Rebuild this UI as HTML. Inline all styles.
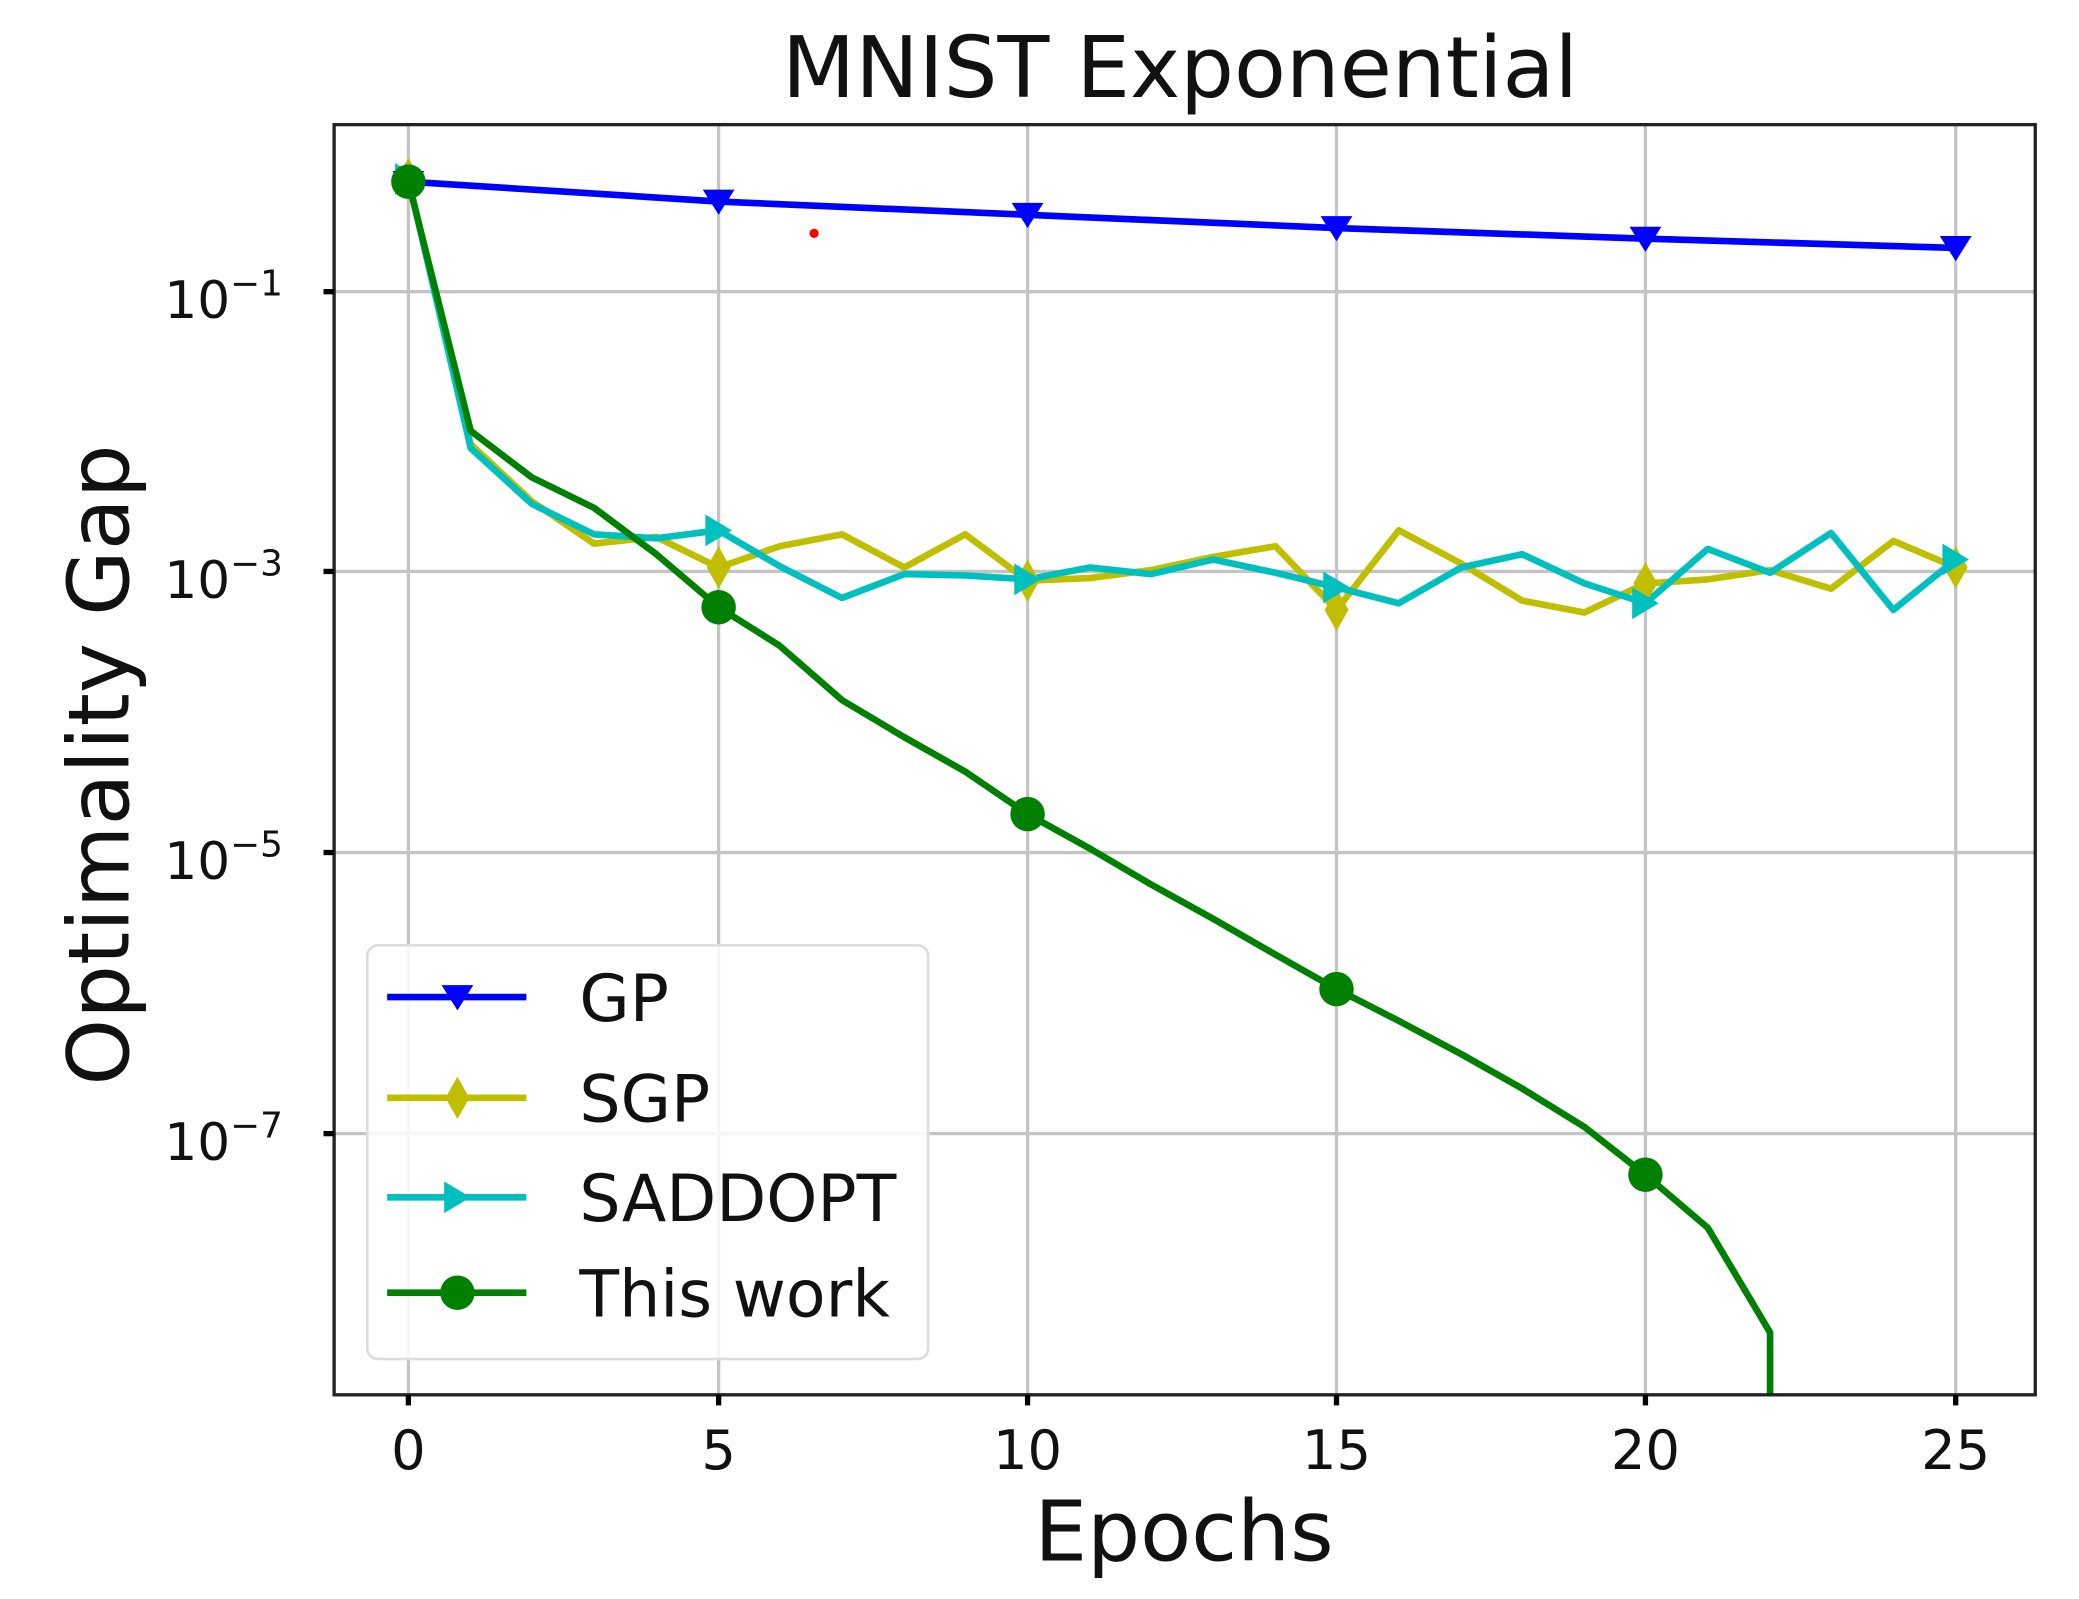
<!DOCTYPE html>
<html><head><meta charset="utf-8"><style>html,body{margin:0;padding:0;background:#fff}svg{display:block}</style></head><body>
<svg width="2079" height="1599" viewBox="0 0 1568 1206" preserveAspectRatio="none" xmlns="http://www.w3.org/2000/svg" font-family="DejaVu Sans, Liberation Sans, sans-serif">
<rect width="1568" height="1206" fill="#fff"/>
<g stroke="#c4c4c4" stroke-width="2.5">
<line x1="308" y1="94" x2="308" y2="1052"/><line x1="542" y1="94" x2="542" y2="1052"/><line x1="775" y1="94" x2="775" y2="1052"/><line x1="1008" y1="94" x2="1008" y2="1052"/><line x1="1241" y1="94" x2="1241" y2="1052"/><line x1="1475" y1="94" x2="1475" y2="1052"/>
<line x1="252" y1="220" x2="1535" y2="220"/><line x1="252" y1="431" x2="1535" y2="431"/><line x1="252" y1="643" x2="1535" y2="643"/><line x1="252" y1="855" x2="1535" y2="855"/>
</g>
<circle cx="614" cy="176" r="3.5" fill="red"/>
<g fill="none" stroke-width="5" stroke-linejoin="round">
<polyline stroke="#0000ff" points="308,137 542,152 775,162 1008,172 1241,180 1475,187"/>
<polyline stroke="#bfbf00" points="308,135 355,335 401,378 448,410 495,405 542,428 588,412 635,403 682,428 728,403 775,438 822,436 868,430 915,420 962,412 1008,460 1055,400 1102,425 1148,453 1195,462 1241,440 1288,437 1335,430 1381,444 1428,408 1475,428"/>
<polyline stroke="#00bfbf" points="308,135 355,338 401,380 448,403 495,406 542,400 588,427 635,451 682,433 728,434 775,437 822,428 868,433 915,422 962,432 1008,443 1055,455 1102,428 1148,418 1195,440 1241,455 1288,414 1335,432 1381,402 1428,460 1475,422"/>
<polyline stroke="#008000" points="308,137 355,325 401,360 448,383 495,418 542,458 588,487 635,528 682,556 728,582 775,614 822,640 868,667 915,693 962,720 1008,746 1055,770 1102,795 1148,821 1195,850 1241,886 1288,926 1335,1005 1335,1052"/>
</g>
<g fill="#0000ff"><path d="M296,129h24l-12,19z M530,143h24l-12,19z M763,153h24l-12,19z M996,163h24l-12,19z M1229,171h24l-12,19z M1463,178h24l-12,19z"/></g>
<g fill="#bfbf00"><path d="M308,119l9,16l-9,16l-9,-16z M542,412l9,16l-9,16l-9,-16z M775,422l9,16l-9,16l-9,-16z M1008,444l9,16l-9,16l-9,-16z M1241,424l9,16l-9,16l-9,-16z M1475,412l9,16l-9,16l-9,-16z"/></g>
<g fill="#00bfbf"><path d="M298,123l20,12l-20,12z M532,388l20,12l-20,12z M765,425l20,12l-20,12z M998,431l20,12l-20,12z M1231,443l20,12l-20,12z M1465,410l20,12l-20,12z"/></g>
<g fill="#008000"><circle cx="308" cy="137" r="13"/><circle cx="542" cy="458" r="13"/><circle cx="775" cy="614" r="13"/><circle cx="1008" cy="746" r="13"/><circle cx="1241" cy="886" r="13"/></g>
<rect x="252" y="94" width="1283" height="958" fill="none" stroke="#222" stroke-width="2.5"/>
<g stroke="#000" stroke-width="4">
<line x1="244" y1="220" x2="252" y2="220"/><line x1="244" y1="431" x2="252" y2="431"/><line x1="244" y1="643" x2="252" y2="643"/><line x1="244" y1="855" x2="252" y2="855"/>
<line x1="308" y1="1052" x2="308" y2="1060"/><line x1="542" y1="1052" x2="542" y2="1060"/><line x1="775" y1="1052" x2="775" y2="1060"/><line x1="1008" y1="1052" x2="1008" y2="1060"/><line x1="1241" y1="1052" x2="1241" y2="1060"/><line x1="1475" y1="1052" x2="1475" y2="1060"/>
</g>
<g font-size="41" fill="#111" text-anchor="middle">
<text x="308" y="1108">0</text><text x="542" y="1108">5</text><text x="775" y="1108">10</text><text x="1008" y="1108">15</text><text x="1241" y="1108">20</text><text x="1475" y="1108">25</text>
</g>
<g font-size="39" fill="#111">
<text x="124" y="240">10<tspan font-size="27" dy="-17">−1</tspan></text>
<text x="124" y="451">10<tspan font-size="27" dy="-17">−3</tspan></text>
<text x="124" y="663">10<tspan font-size="27" dy="-17">−5</tspan></text>
<text x="124" y="875">10<tspan font-size="27" dy="-17">−7</tspan></text>
</g>
<text x="890" y="73" font-size="64" text-anchor="middle" fill="#111">MNIST Exponential</text>
<text x="893" y="1177" font-size="63" text-anchor="middle" fill="#111">Epochs</text>
<text transform="translate(97,577) rotate(-90)" font-size="64" text-anchor="middle" fill="#111">Optimality Gap</text>
<rect x="277" y="713" width="423" height="312" rx="8" fill="#fff" fill-opacity="0.85" stroke="#ddd" stroke-width="2"/>
<g stroke-width="5">
<line x1="292" y1="752" x2="397" y2="752" stroke="#0000ff"/>
<line x1="292" y1="828" x2="397" y2="828" stroke="#bfbf00"/>
<line x1="292" y1="903" x2="397" y2="903" stroke="#00bfbf"/>
<line x1="292" y1="975" x2="397" y2="975" stroke="#008000"/>
</g>
<path d="M333,743h24l-12,19z" fill="#0000ff"/>
<path d="M345,812l9,16l-9,16l-9,-16z" fill="#bfbf00"/>
<path d="M335,891l20,12l-20,12z" fill="#00bfbf"/>
<circle cx="345" cy="975" r="13" fill="#008000"/>
<g font-size="49" fill="#111">
<text x="437" y="770">GP</text><text x="437" y="846">SGP</text><text x="437" y="921">SADDOPT</text><text x="437" y="993">This work</text>
</g>
</svg>
</body></html>
